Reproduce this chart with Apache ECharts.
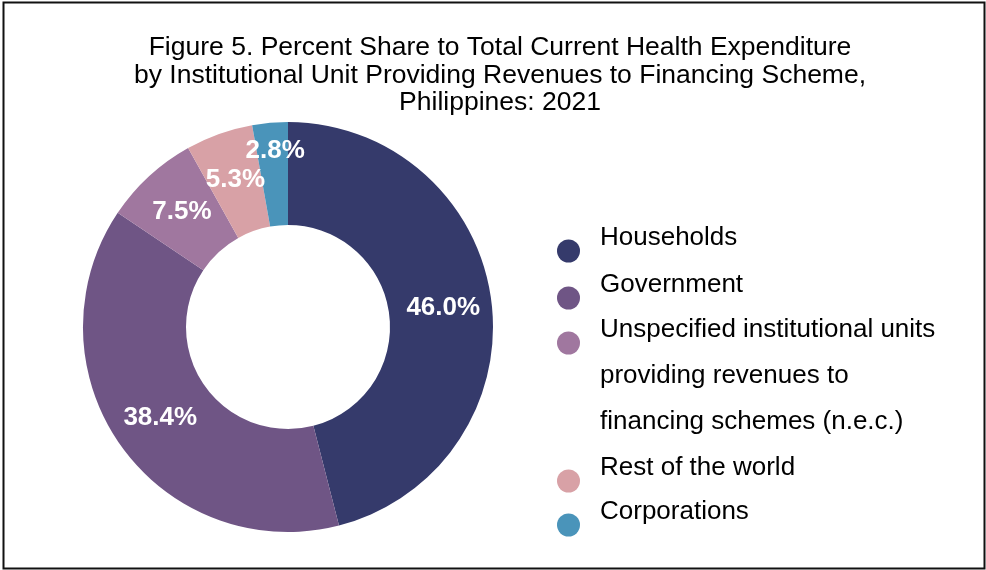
<!DOCTYPE html>
<html>
<head>
<meta charset="utf-8">
<title>Figure 5</title>
<script src="https://cdn.jsdelivr.net/npm/echarts@6/dist/echarts.min.js"></script>
<style>
  html, body { margin: 0; padding: 0; background: #fff; }
  #chart { width: 986px; height: 570px; }
</style>
</head>
<body>
<div id="chart"></div>
<script>
// data
const categories = [
  'Households',
  'Government',
  'Unspecified institutional units providing revenues to financing schemes (n.e.c.)',
  'Rest of the world',
  'Corporations'
];
const shares = [46.0, 38.4, 7.5, 5.3, 2.8];
const colors = ['#353a6b', '#6f5585', '#a0779f', '#d8a1a6', '#4a94ba'];

// legend text lines and icon centres (y)
const legendLines = [
  ['Households'],
  ['Government'],
  ['Unspecified institutional units', 'providing revenues to', 'financing schemes (n.e.c.)'],
  ['Rest of the world'],
  ['Corporations']
];
const legendIconY = [250, 297, 342, 480, 524];

const font = '"Liberation Sans", Arial, sans-serif';

// one legend per entry so each line sits where it does in the figure;
// the text sits a little above its marker, done with empty spacer lines
const legends = categories.map(function (name, i) {
  const lines = legendLines[i];
  const multi = lines.length > 1;
  const text = multi
    ? '{pre| }\n' + lines.map(function (l) { return '{m|' + l + '}'; }).join('\n')
    : '{s|' + lines[0] + '}\n{post| }';
  // distance from the legend's top edge to the marker centre
  const toIcon = multi ? 73 : 25;
  return {
    data: [name],
    orient: 'vertical',
    left: 557,
    top: legendIconY[i] - toIcon,
    padding: 0,
    icon: 'circle',
    itemWidth: 23,
    itemHeight: 23,
    itemGap: 0,
    selectedMode: false,
    formatter: function () { return text; },
    textStyle: {
      fontFamily: font,
      fontSize: 26,
      color: '#000',
      padding: [0, 0, 0, 15],
      rich: {
        s: { fontFamily: font, fontSize: 26, color: '#000', lineHeight: 30 },
        m: { fontFamily: font, fontSize: 26, color: '#000', lineHeight: 46 },
        pre: { fontSize: 10, lineHeight: 66 },
        post: { fontSize: 10, lineHeight: 26 }
      }
    }
  };
});

const myChart = echarts.init(document.getElementById('chart'));
myChart.setOption({
  animation: false,
  color: colors,
  title: {
    text: 'Figure 5. Percent Share to Total Current Health Expenditure\nby Institutional Unit Providing Revenues to Financing Scheme,\nPhilippines: 2021',
    left: 495,
    top: 29,
    textAlign: 'center',
    textStyle: {
      fontFamily: font,
      fontWeight: 'normal',
      fontSize: 26.5,
      lineHeight: 27.5,
      color: '#000'
    }
  },
  legend: legends,
  graphic: [{
    type: 'rect',
    shape: { x: 3.5, y: 2.5, width: 981, height: 566 },
    style: { fill: 'none', stroke: '#111', lineWidth: 2 },
    silent: true
  }],
  series: [{
    type: 'pie',
    center: [288, 327],
    radius: [102, 205],
    startAngle: 90,
    clockwise: true,
    data: categories.map(function (name, i) {
      return { name: name, value: shares[i] };
    }),
    label: {
      show: true,
      position: 'inside',
      formatter: function (p) { return p.value.toFixed(1) + '%'; },
      color: '#fff',
      fontFamily: font,
      fontWeight: 'bold',
      fontSize: 26
    },
    labelLayout: function (p) {
      // small slice: label sits nearer the outer edge
      if (p.dataIndex === 4) return { dx: 1, dy: -20 };
      return {};
    },
    labelLine: { show: false },
    emphasis: { disabled: true }
  }]
});
</script>
</body>
</html>
